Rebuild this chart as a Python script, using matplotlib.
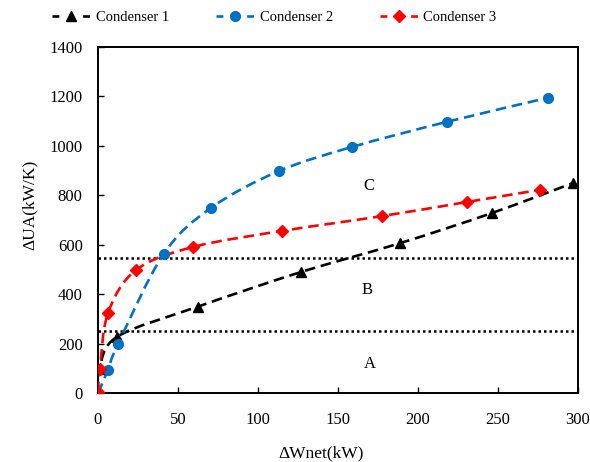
import numpy as np
import matplotlib
matplotlib.use("Agg")
import matplotlib.pyplot as plt
from matplotlib.path import Path
from matplotlib.patches import PathPatch
from matplotlib.lines import Line2D

plt.rcParams["font.family"] = ["Liberation Serif", "DejaVu Serif"]

# Data
c1_x = [0, 1, 12, 62.5, 127, 189, 246, 297]
c1_y = [0, 97, 228, 350, 490, 607, 728, 850]

c2_x = [0, 6.3, 12.5, 41, 70.6, 113, 159, 218, 281]
c2_y = [0, 95, 198, 562, 749, 898, 996, 1097, 1194]

c3_x = [0, 1.2, 6.3, 23.8, 59.4, 115, 177.5, 230.6, 276]
c3_y = [4, 97, 324, 498, 591, 656, 716, 773, 822]

limit_levels = [250, 546]
zone_labels = ["A", "B", "C"]
zone_x = [170, 168, 169]
zone_y = [117, 417, 838]

series = [
    ("Condenser 1", c1_x, c1_y, "black", "^"),
    ("Condenser 2", c2_x, c2_y, "#0070C0", "o"),
    ("Condenser 3", c3_x, c3_y, "red", "D"),
]


def smooth_path(xs, ys):
    # Catmull-Rom style bezier through the points (like Excel smoothed lines)
    p = np.column_stack([xs, ys]).astype(float)
    n = len(p)
    verts = [p[0]]
    codes = [Path.MOVETO]
    for i in range(n - 1):
        p0 = p[i - 1] if i > 0 else p[i]
        p1 = p[i]
        p2 = p[i + 1]
        p3 = p[i + 2] if i + 2 < n else p[i + 1]
        c1 = p1 + (p2 - p0) / 6.0
        c2 = p2 - (p3 - p1) / 6.0
        verts += [c1, c2, p2]
        codes += [Path.CURVE4] * 3
    return Path(verts, codes)


fig = plt.figure(figsize=(5.9, 4.62), dpi=100)
ax = fig.add_axes([0.166, 0.149, 0.8137, 0.7494])

handles = []
for name, xs, ys, col, mk in series:
    patch = PathPatch(smooth_path(xs, ys), facecolor="none", edgecolor=col,
                      lw=1.9, linestyle=(0, (4, 2.2)), zorder=3)
    ax.add_patch(patch)
    ms = 6.5 if mk == "D" else 7
    ax.plot(xs, ys, linestyle="none", marker=mk, color=col, ms=ms, zorder=4)
    handles.append(Line2D([], [], color=col, lw=1.9, linestyle=(0, (2.6, 9.0)),
                          marker=mk, ms=ms, label=name))

for lvl in limit_levels:
    ax.plot([0, 300], [lvl, lvl], color="black", lw=1.8, linestyle=(0, (1, 1.2)), zorder=2)

for lab, zx, zy in zip(zone_labels, zone_x, zone_y):
    ax.text(zx, zy, lab, fontsize=12, ha="center", va="center")

ax.set_xlim(0, 300)
ax.set_ylim(0, 1400)
ax.set_xticks(np.arange(0, 301, 50))
ax.set_yticks(np.arange(0, 1401, 200))
ax.tick_params(direction="in", length=4, width=1, labelsize=12)
ax.tick_params(axis="x", pad=13.5)
ax.tick_params(axis="y", pad=11)
for sp in ax.spines.values():
    sp.set_linewidth(1.4)

ax.set_xlabel("\u0394Wnet(kW)", fontsize=12.5)
ax.set_ylabel("\u0394UA(kW/K)", fontsize=12.5)
ax.xaxis.set_label_coords((321 - 98) / 480, -0.15)
ax.yaxis.set_label_coords(-0.125, 0.543)

fig.legend(handles=handles, loc="center", bbox_to_anchor=(274.5 / 590, 1 - 17 / 462),
           ncol=3, frameon=False, fontsize=10.5, handlelength=2.6, columnspacing=3.2,
           handletextpad=0.4)

fig.savefig("out.png", dpi=100)
